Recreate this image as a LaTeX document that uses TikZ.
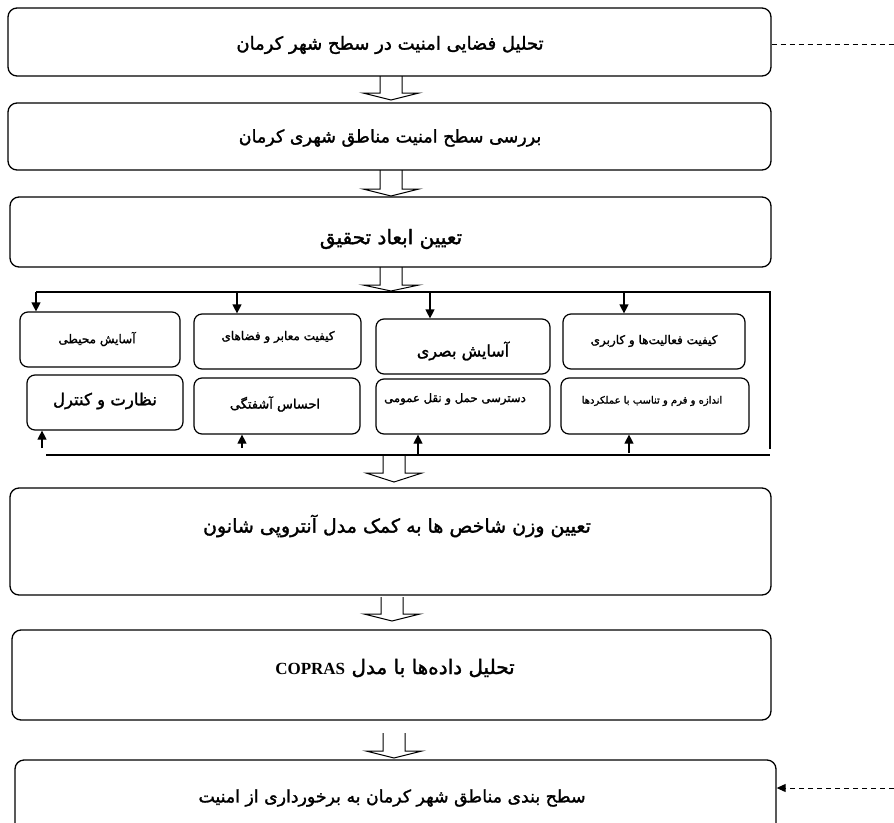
\documentclass[tikz,border=0pt]{standalone}
\usepackage{fontspec}
\TeXXeTstate=1
\newfontfamily\arabicfont[Script=Arabic,FakeBold=1.6]{DejaVu Sans}
\newfontfamily\timesf{Liberation Serif}
\usetikzlibrary{arrows.meta}
\newcommand{\fa}[1]{{\arabicfont\beginR #1\endR}}
\newcommand{\fs}[1]{\fontsize{#1}{#1}\selectfont}
\newcommand{\harrow}[4]{%
  \draw[line width=1pt,line join=miter]
    ({#1-11},#2) -- ({#1-11},#3) -- ({#1-28},#3) -- (#1,#4) -- ({#1+28},#3) -- ({#1+11},#3) -- ({#1+11},#2);}
\tikzset{
  bigbox/.style={draw=black,line width=1.3pt,rounded corners=9pt,inner sep=0pt},
  smallbox/.style={draw=black,line width=1.2pt,rounded corners=8pt,inner sep=0pt},
  txt/.style={inner sep=0pt,anchor=center},
  arr/.style={line width=1.2pt,-{Triangle[length=9pt,width=9pt]}},
  frameline/.style={line width=1.2pt},
  dashline/.style={line width=1pt,dash pattern=on 5pt off 4pt}
}
\begin{document}
\begin{tikzpicture}[x=1pt,y=-1pt]
\useasboundingbox (0,0) rectangle (894,822);
\clip (0,0) rectangle (894,822);
% main boxes
\node[bigbox,minimum width=763pt,minimum height=68pt] (b1) at (389.5,42) {};
\node[bigbox,minimum width=763pt,minimum height=67pt] (b2) at (389.5,136.5) {};
\node[bigbox,minimum width=761pt,minimum height=70pt] (b3) at (390.5,232) {};
\node[bigbox,minimum width=761pt,minimum height=107pt] (b4) at (390.5,541.5) {};
\node[bigbox,minimum width=759pt,minimum height=90pt] (b5) at (391.5,675) {};
\node[bigbox,minimum width=761pt,minimum height=74pt] (b6) at (395.5,797) {};
\node[txt] (t1) at (390,45) {\fs{18}\fa{تحلیل فضایی امنیت در سطح شهر کرمان}};
\node[txt] (t2) at (390,138) {\fs{17.5}\fa{بررسی سطح امنیت مناطق شهری کرمان}};
\node[txt] (t3) at (391,239) {\fs{20}\fa{تعیین ابعاد  تحقیق}};
\node[txt] (t4) at (397,526) {\fs{19}\fa{تعیین وزن شاخص ها به کمک مدل آنتروپی شانون}};
\node[txt] (t5) at (395,668) {\fs{20}\fa{تحلیل داده‌ها با مدل \beginL{\timesf\bfseries\fs{17}COPRAS}\endL}};
\node[txt] (t6) at (392,798) {\fs{17.3}\fa{سطح بندی مناطق شهر کرمان به برخورداری از امنیت}};
% hollow arrows
\harrow{391}{76}{93}{100}
\harrow{391}{170}{189}{196}
\harrow{391}{267}{285}{291}
\harrow{394}{456}{473}{482}
\harrow{392}{597}{614}{621}
\harrow{394}{733}{751}{758}
% grid boxes
\node[smallbox,minimum width=160pt,minimum height=55pt] (A) at (100,339.5) {};
\node[smallbox,minimum width=167pt,minimum height=55pt] (B) at (277.5,341.5) {};
\node[smallbox,minimum width=174pt,minimum height=55pt] (C) at (463,346.5) {};
\node[smallbox,minimum width=182pt,minimum height=55pt] (D) at (654,341.5) {};
\node[smallbox,minimum width=156pt,minimum height=55pt] (E) at (105,402.5) {};
\node[smallbox,minimum width=166pt,minimum height=56pt] (F) at (277,406) {};
\node[smallbox,minimum width=174pt,minimum height=55pt] (G) at (463,406.5) {};
\node[smallbox,minimum width=188pt,minimum height=56pt] (H) at (655,406) {};
\node[txt] (tA) at (97,339) {\fs{12}\fa{آسایش محیطی}};
\node[txt] (tB) at (278,337) {\fs{12}\fa{کیفیت معابر و فضاهای}};
\node[txt] (tC) at (463,351) {\fs{16}\fa{آسایش بصری}};
\node[txt] (tD) at (654,341) {\fs{12}\fa{کیفیت فعالیت‌ها و کاربری}};
\node[txt] (tE) at (105,401) {\fs{16.5}\fa{نظارت و کنترل}};
\node[txt] (tF) at (275,404) {\fs{13}\fa{احساس آشفتگی}};
\node[txt] (tG) at (455,399) {\fs{11.7}\fa{دسترسی حمل و نقل عمومی}};
\node[txt] (tH) at (652,401) {\fs{10}\fa{اندازه و فرم و تناسب با عملکردها}};
% distribution frame
\coordinate (tl) at (36,292);
\coordinate (tr) at (770,292);
\coordinate (br) at (770,449);
\coordinate (bl) at (46,455);
\coordinate (bre) at (770,455);
\draw[frameline] (tl) -- (tr) -- (br);
\draw[frameline] (bl) -- (bre);
% down arrows
\coordinate (dA) at (36,292);
\coordinate (dB) at (237,292);
\coordinate (dC) at (430,292);
\coordinate (dD) at (624,292);
\draw[arr] (dA) -- (dA |- A.north);
\draw[arr] (dB) -- (dB |- B.north);
\draw[arr] (dC) -- (dC |- C.north);
\draw[arr] (dD) -- (dD |- D.north);
% up arrows
\coordinate (uE) at (42,448);
\coordinate (uF) at (242,448);
\coordinate (uG) at (418,455);
\coordinate (uH) at (629,453);
\draw[arr] (uE) -- (uE |- E.south);
\draw[arr] (uF) -- (uF |- F.south);
\draw[arr] (uG) -- (uG |- G.south);
\draw[arr] (uH) -- (uH |- H.south);
% dashed connectors
\coordinate (r1) at (894,44);
\coordinate (r6) at (894,788);
\draw[dashline] (b1.east |- r1) -- (r1);
\draw[dashline,-{Triangle[length=9pt,width=8pt]}] (r6) -- (b6.east |- r6);
\end{tikzpicture}
\end{document}
